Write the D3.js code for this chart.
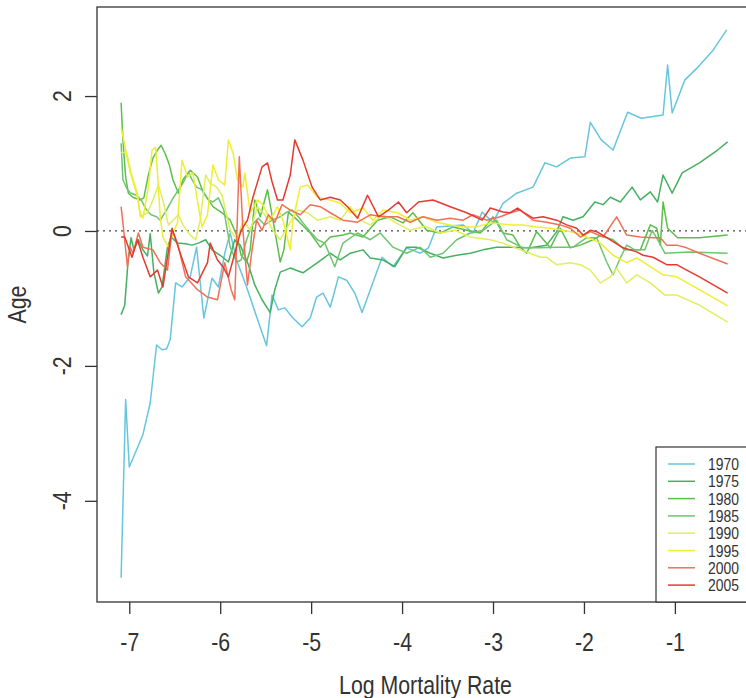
<!DOCTYPE html>
<html><head><meta charset="utf-8">
<script src="https://cdn.jsdelivr.net/npm/d3@7"></script>
<style>body{margin:0;background:#fff}svg{display:block}</style>
</head><body><div id="chart"></div>
<script>
// ---- data ----
const years = ["1970","1975","1980","1985","1990","1995","2000","2005"];
const colors = ["#66c6de","#45b060","#5cbf4a","#70c470","#e0ef5a","#f0ee30","#f07058","#e53a30"];
const xTicks = [-7,-6,-5,-4,-3,-2,-1];
const yTicks = [-4,-2,0,2];

const x1970 = [-7.09,-7.04,-7.00,-6.85,-6.77,-6.70,-6.64,-6.59,-6.55,-6.49,-6.42,-6.33,-6.26,-6.18,-6.09,-6.02,-5.95,-5.89,-5.82,-5.71,-5.60,-5.49,-5.43,-5.36,-5.29,-5.20,-5.10,-5.01,-4.94,-4.87,-4.79,-4.70,-4.61,-4.52,-4.44,-4.22,-4.10,-3.95,-3.80,-3.71,-3.62,-3.33,-3.22,-3.12,-3.00,-2.89,-2.74,-2.56,-2.43,-2.30,-2.15,-1.99,-1.93,-1.81,-1.68,-1.52,-1.37,-1.13,-1.08,-1.03,-0.89,-0.76,-0.58,-0.43];
const y1970 = [-5.14,-2.50,-3.50,-3.02,-2.55,-1.69,-1.76,-1.75,-1.61,-0.77,-0.83,-0.68,-0.24,-1.29,-0.70,-0.83,-0.33,-0.03,-0.43,-0.83,-1.27,-1.70,-0.95,-1.17,-1.14,-1.29,-1.42,-1.29,-0.98,-0.92,-1.13,-0.68,-0.73,-0.92,-1.21,-0.39,-0.53,-0.25,-0.33,-0.25,0.06,0.09,-0.03,0.28,0.13,0.41,0.56,0.65,1.01,0.95,1.08,1.10,1.61,1.35,1.20,1.76,1.67,1.72,2.46,1.75,2.24,2.41,2.68,2.98];

const x1975 = [-7.09,-7.05,-7.01,-6.98,-6.95,-6.90,-6.85,-6.80,-6.77,-6.73,-6.68,-6.64,-6.58,-6.54,-6.47,-6.38,-6.31,-6.24,-6.16,-6.09,-6.00,-5.91,-5.84,-5.78,-5.69,-5.62,-5.54,-5.45,-5.40,-5.34,-5.23,-5.09,-4.93,-4.79,-4.68,-4.57,-4.43,-4.35,-4.21,-4.08,-3.95,-3.84,-3.69,-3.55,-3.40,-3.25,-3.11,-2.96,-2.81,-2.59,-2.41,-2.30,-2.23,-2.12,-2.01,-1.88,-1.79,-1.71,-1.60,-1.47,-1.38,-1.27,-1.19,-1.13,-1.03,-0.92,-0.73,-0.53,-0.42];
const y1975 = [-1.24,-1.10,-0.39,-0.10,-0.28,-0.13,-0.28,-0.37,-0.04,-0.61,-0.92,-0.83,-0.24,-0.09,-0.18,-0.19,-0.21,-0.18,-0.13,-0.28,-0.36,-0.46,-0.13,-0.21,-0.50,-0.80,-1.02,-1.21,-0.87,-0.61,-0.55,-0.62,-0.47,-0.33,-0.43,-0.33,-0.28,-0.40,-0.43,-0.53,-0.24,-0.24,-0.33,-0.40,-0.36,-0.33,-0.28,-0.24,-0.24,-0.25,-0.21,-0.01,0.21,0.16,0.21,0.43,0.39,0.50,0.43,0.65,0.46,0.58,0.43,0.83,0.56,0.86,1.01,1.20,1.32];

const x1980 = [-7.09,-7.07,-7.04,-7.01,-6.96,-6.88,-6.84,-6.79,-6.74,-6.69,-6.65,-6.60,-6.56,-6.52,-6.46,-6.41,-6.33,-6.25,-6.19,-6.13,-6.08,-5.98,-5.89,-5.82,-5.77,-5.71,-5.67,-5.62,-5.56,-5.48,-5.42,-5.34,-5.30,-5.25,-5.15,-5.01,-4.90,-4.79,-4.65,-4.57,-4.43,-4.27,-4.13,-3.99,-3.88,-3.73,-3.58,-3.44,-3.29,-3.14,-3.00,-2.89,-2.78,-2.70,-2.63,-2.52,-2.37,-2.26,-2.15,-2.04,-1.90,-1.82,-1.68,-1.55,-1.38,-1.27,-1.20,-1.16,-1.13,-1.08,-0.97,-0.73,-0.42];
const y1980 = [1.90,1.35,0.80,0.56,0.50,0.46,0.49,0.83,1.08,1.20,1.27,1.13,0.98,0.76,0.56,0.76,0.90,0.80,0.58,0.46,0.36,0.27,0.16,-0.06,-0.36,-0.46,-0.28,0.46,0.21,0.61,0.16,-0.46,-0.28,0.28,0.16,-0.03,-0.24,-0.09,-0.06,-0.03,-0.09,0.16,0.21,0.12,0.27,0.01,-0.03,0.06,0.01,-0.03,0.21,-0.03,-0.06,-0.24,-0.33,-0.01,-0.25,0.04,-0.25,-0.21,-0.13,-0.07,-0.13,-0.28,-0.28,0.09,0.04,-0.21,0.43,0.04,-0.10,-0.10,-0.06];

const x1985 = [-7.09,-7.07,-7.02,-6.98,-6.92,-6.87,-6.81,-6.76,-6.70,-6.66,-6.59,-6.53,-6.46,-6.41,-6.35,-6.31,-6.26,-6.20,-6.13,-6.08,-6.02,-5.96,-5.89,-5.82,-5.77,-5.71,-5.65,-5.58,-5.51,-5.43,-5.34,-5.27,-5.21,-5.14,-5.09,-5.01,-4.93,-4.85,-4.74,-4.65,-4.49,-4.35,-4.24,-4.10,-3.95,-3.80,-3.69,-3.55,-3.40,-3.25,-3.11,-2.96,-2.85,-2.67,-2.48,-2.30,-2.12,-1.97,-1.86,-1.75,-1.68,-1.60,-1.53,-1.44,-1.33,-1.25,-1.19,-1.11,-0.84,-0.42];
const y1985 = [1.30,0.76,0.61,0.56,0.53,0.46,0.31,0.24,0.21,0.16,0.31,0.46,0.61,0.71,0.87,0.76,0.65,0.61,0.46,0.43,0.49,0.31,-0.24,-0.46,-0.43,-0.13,0.09,0.19,0.09,0.16,0.21,0.28,0.31,0.21,0.12,-0.01,-0.13,-0.18,-0.53,-0.18,-0.03,-0.13,-0.03,-0.24,-0.33,-0.24,-0.39,-0.33,-0.13,-0.03,0.01,0.16,-0.13,-0.25,-0.25,-0.24,-0.24,-0.10,-0.10,-0.46,-0.65,-0.40,-0.21,-0.28,-0.28,0.01,-0.13,-0.33,-0.31,-0.33];

const x1990 = [-7.09,-7.03,-6.98,-6.91,-6.88,-6.80,-6.74,-6.68,-6.63,-6.57,-6.52,-6.46,-6.41,-6.33,-6.27,-6.22,-6.16,-6.11,-6.04,-5.98,-5.89,-5.81,-5.75,-5.67,-5.59,-5.51,-5.42,-5.34,-5.26,-5.15,-5.04,-4.93,-4.79,-4.68,-4.57,-4.46,-4.35,-4.21,-4.08,-3.91,-3.75,-3.58,-3.42,-3.25,-3.03,-2.89,-2.70,-2.59,-2.48,-2.41,-2.30,-2.15,-2.04,-1.93,-1.82,-1.71,-1.64,-1.53,-1.42,-1.27,-1.11,-0.98,-0.73,-0.42];
const y1990 = [1.16,1.17,0.86,0.56,0.21,0.27,0.46,0.68,0.46,0.09,0.16,0.24,0.09,-0.06,-0.13,0.16,0.83,0.71,0.65,0.53,0.01,-0.13,0.16,0.01,0.36,0.24,0.01,-0.13,0.06,0.31,0.27,0.16,0.21,0.16,0.36,0.16,0.09,0.24,0.13,0.01,0.07,-0.03,0.01,-0.09,-0.13,-0.18,-0.28,-0.33,-0.39,-0.39,-0.50,-0.47,-0.50,-0.58,-0.77,-0.68,-0.55,-0.77,-0.65,-0.77,-0.95,-0.95,-1.10,-1.35];

const x1995 = [-7.09,-7.04,-6.99,-6.92,-6.88,-6.85,-6.79,-6.75,-6.71,-6.69,-6.66,-6.63,-6.57,-6.52,-6.47,-6.42,-6.36,-6.30,-6.24,-6.20,-6.14,-6.08,-6.02,-5.95,-5.91,-5.86,-5.81,-5.75,-5.73,-5.67,-5.59,-5.53,-5.45,-5.37,-5.31,-5.23,-5.20,-5.12,-5.04,-4.93,-4.79,-4.68,-4.57,-4.43,-4.32,-4.21,-4.05,-3.91,-3.77,-3.62,-3.47,-3.33,-3.18,-3.03,-2.81,-2.67,-2.52,-2.37,-2.23,-2.08,-1.97,-1.82,-1.68,-1.53,-1.42,-1.27,-1.13,-0.98,-0.73,-0.42];
const y1995 = [1.54,1.20,0.87,0.56,0.27,0.19,0.65,1.20,1.24,0.86,0.21,-0.09,-0.24,-0.03,0.12,1.05,0.80,0.86,0.36,0.06,0.24,0.98,0.76,0.68,1.35,1.16,0.76,0.65,0.86,0.27,0.46,0.39,0.16,0.36,0.16,-0.28,0.16,0.65,0.68,0.50,0.46,0.41,0.27,0.34,0.16,0.31,0.27,0.16,0.21,0.13,0.09,0.06,0.06,0.12,0.09,0.09,0.06,0.04,0.01,-0.03,-0.09,-0.18,-0.36,-0.47,-0.40,-0.53,-0.65,-0.68,-0.87,-1.11];

const x2000 = [-7.09,-7.07,-7.02,-6.99,-6.96,-6.90,-6.85,-6.74,-6.66,-6.58,-6.53,-6.47,-6.38,-6.25,-6.14,-6.03,-5.95,-5.88,-5.84,-5.79,-5.75,-5.70,-5.65,-5.60,-5.54,-5.47,-5.40,-5.32,-5.23,-5.12,-5.01,-4.90,-4.79,-4.65,-4.49,-4.35,-4.21,-4.05,-3.91,-3.77,-3.62,-3.47,-3.33,-3.22,-3.07,-2.92,-2.81,-2.70,-2.56,-2.41,-2.26,-2.15,-2.04,-1.93,-1.79,-1.64,-1.53,-1.38,-1.24,-1.16,-1.09,-0.98,-0.87,-0.73,-0.42];
const y2000 = [0.36,0.12,-0.53,-0.24,-0.33,-0.03,-0.24,-0.28,-0.47,-0.58,0.01,-0.18,-0.68,-0.87,-0.98,-1.02,-0.47,-0.87,-1.02,1.10,0.01,-0.80,-0.28,0.16,0.01,0.24,0.13,0.39,0.31,0.24,0.39,0.36,0.27,0.16,0.13,0.24,0.21,0.21,0.13,0.21,0.16,0.19,0.16,0.24,0.16,0.21,0.27,0.31,0.16,0.13,0.09,0.04,-0.09,-0.01,-0.09,0.21,-0.06,-0.09,-0.10,-0.10,-0.21,-0.21,-0.25,-0.33,-0.49];

const x2005 = [-7.09,-7.05,-6.97,-6.91,-6.85,-6.77,-6.69,-6.63,-6.53,-6.44,-6.35,-6.25,-6.14,-6.11,-6.03,-5.97,-5.91,-5.86,-5.80,-5.77,-5.70,-5.64,-5.54,-5.48,-5.43,-5.37,-5.31,-5.23,-5.18,-5.09,-4.99,-4.90,-4.79,-4.68,-4.60,-4.49,-4.38,-4.26,-4.15,-4.04,-3.95,-3.82,-3.66,-3.47,-3.29,-3.12,-3.03,-2.89,-2.81,-2.73,-2.67,-2.56,-2.45,-2.30,-2.19,-2.08,-2.01,-1.93,-1.86,-1.75,-1.57,-1.42,-1.35,-1.24,-1.09,-0.98,-0.87,-0.73,-0.42];
const y2005 = [-0.09,-0.09,-0.39,-0.13,-0.39,-0.68,-0.58,-0.83,0.04,-0.33,-0.68,-0.77,-0.47,-0.18,-0.43,-0.53,-0.68,-0.43,-0.13,0.01,0.16,0.50,0.95,1.01,0.73,0.46,0.46,0.83,1.35,1.05,0.65,0.46,0.50,0.46,0.36,0.19,0.53,0.21,0.31,0.43,0.27,0.43,0.46,0.36,0.27,0.16,0.34,0.28,0.27,0.34,0.28,0.19,0.21,0.16,0.09,0.04,-0.06,0.01,-0.01,-0.10,-0.25,-0.31,-0.36,-0.39,-0.50,-0.50,-0.58,-0.68,-0.92];

const seriesX = [x1970,x1975,x1980,x1985,x1990,x1995,x2000,x2005];
const seriesY = [y1970,y1975,y1980,y1985,y1990,y1995,y2000,y2005];

// ---- layout ----
const W = 746, H = 698;
const FONT = "'Liberation Sans', Arial, Helvetica, sans-serif";
const NARROW = 0.82;
const INK = "#333";
const FS = 26;
const svg = d3.select("#chart").append("svg").attr("width", W).attr("height", H)
  .style("font-family", FONT);

const x = d3.scaleLinear().domain([-7.355, -0.13]).range([97, 754]);
const y = d3.scaleLinear().domain([-5.50, 3.32]).range([602, 7]);

// zero reference line (dotted)
svg.append("line")
  .attr("x1", x.range()[0]).attr("x2", x.range()[1])
  .attr("y1", y(0)).attr("y2", y(0))
  .attr("stroke", "#444").attr("stroke-width", 1.2)
  .attr("stroke-dasharray", "2,4");

// series
const line = d3.line().x(d => x(d[0])).y(d => y(d[1]));
years.forEach((yr, i) => {
  const pts = seriesX[i].map((v, j) => [v, seriesY[i][j]]);
  svg.append("path").datum(pts)
    .attr("d", line).attr("fill", "none")
    .attr("stroke", colors[i]).attr("stroke-width", 1.5)
    .attr("stroke-linejoin", "round");
});

// frame
svg.append("rect")
  .attr("x", x.range()[0]).attr("y", y.range()[1])
  .attr("width", x.range()[1] - x.range()[0]).attr("height", y.range()[0] - y.range()[1])
  .attr("fill", "none").attr("stroke", INK).attr("stroke-width", 1.3);

// x axis
const xAxis = svg.append("g").attr("transform", `translate(0,${y.range()[0]})`)
  .call(d3.axisBottom(x).tickValues(xTicks).tickSize(12).tickPadding(19)
    .tickFormat(d => String(d)));
xAxis.select(".domain").remove();
xAxis.selectAll(".tick line").attr("stroke", INK).attr("stroke-width", 1.3);
xAxis.selectAll(".tick text").attr("fill", INK).attr("font-size", FS)
  .attr("font-family", FONT).attr("transform", `scale(${NARROW},1)`);

// y axis (ticks only, labels parallel to axis like R)
const yAxis = svg.append("g").attr("transform", `translate(${x.range()[0]},0)`)
  .call(d3.axisLeft(y).tickValues(yTicks).tickSize(12).tickFormat(""));
yAxis.select(".domain").remove();
yAxis.selectAll(".tick line").attr("stroke", INK).attr("stroke-width", 1.3);
yTicks.forEach(v => {
  svg.append("text")
    .attr("transform", `translate(71,${y(v)}) rotate(-90) scale(${NARROW},1)`)
    .attr("text-anchor", "middle").attr("font-size", FS).attr("fill", INK)
    .text(String(v));
});

// axis titles
svg.append("text")
  .attr("transform", `translate(${(x.range()[0] + x.range()[1]) / 2},${694}) scale(${NARROW},1)`)
  .attr("text-anchor", "middle").attr("font-size", FS).attr("fill", INK)
  .text("Log Mortality Rate");
svg.append("text")
  .attr("transform", `translate(26,${(y.range()[0] + y.range()[1]) / 2}) rotate(-90) scale(${NARROW},1)`)
  .attr("text-anchor", "middle").attr("font-size", FS).attr("fill", INK)
  .text("Age");

// legend (bottom right, partly cut by the page edge as in the reference)
const lg = svg.append("g");
lg.append("rect").attr("x", 656).attr("y", 447).attr("width", 98).attr("height", 155)
  .attr("fill", "#fff").attr("stroke", INK).attr("stroke-width", 1.2);
years.forEach((yr, i) => {
  const cy = 464 + i * 17.3;
  lg.append("line").attr("x1", 668).attr("x2", 695).attr("y1", cy).attr("y2", cy)
    .attr("stroke", colors[i]).attr("stroke-width", 1.5);
  lg.append("text")
    .attr("transform", `translate(708,${cy + 6}) scale(${NARROW},1)`)
    .attr("font-size", 17).attr("fill", INK).text(yr);
});
</script>
</body></html>
